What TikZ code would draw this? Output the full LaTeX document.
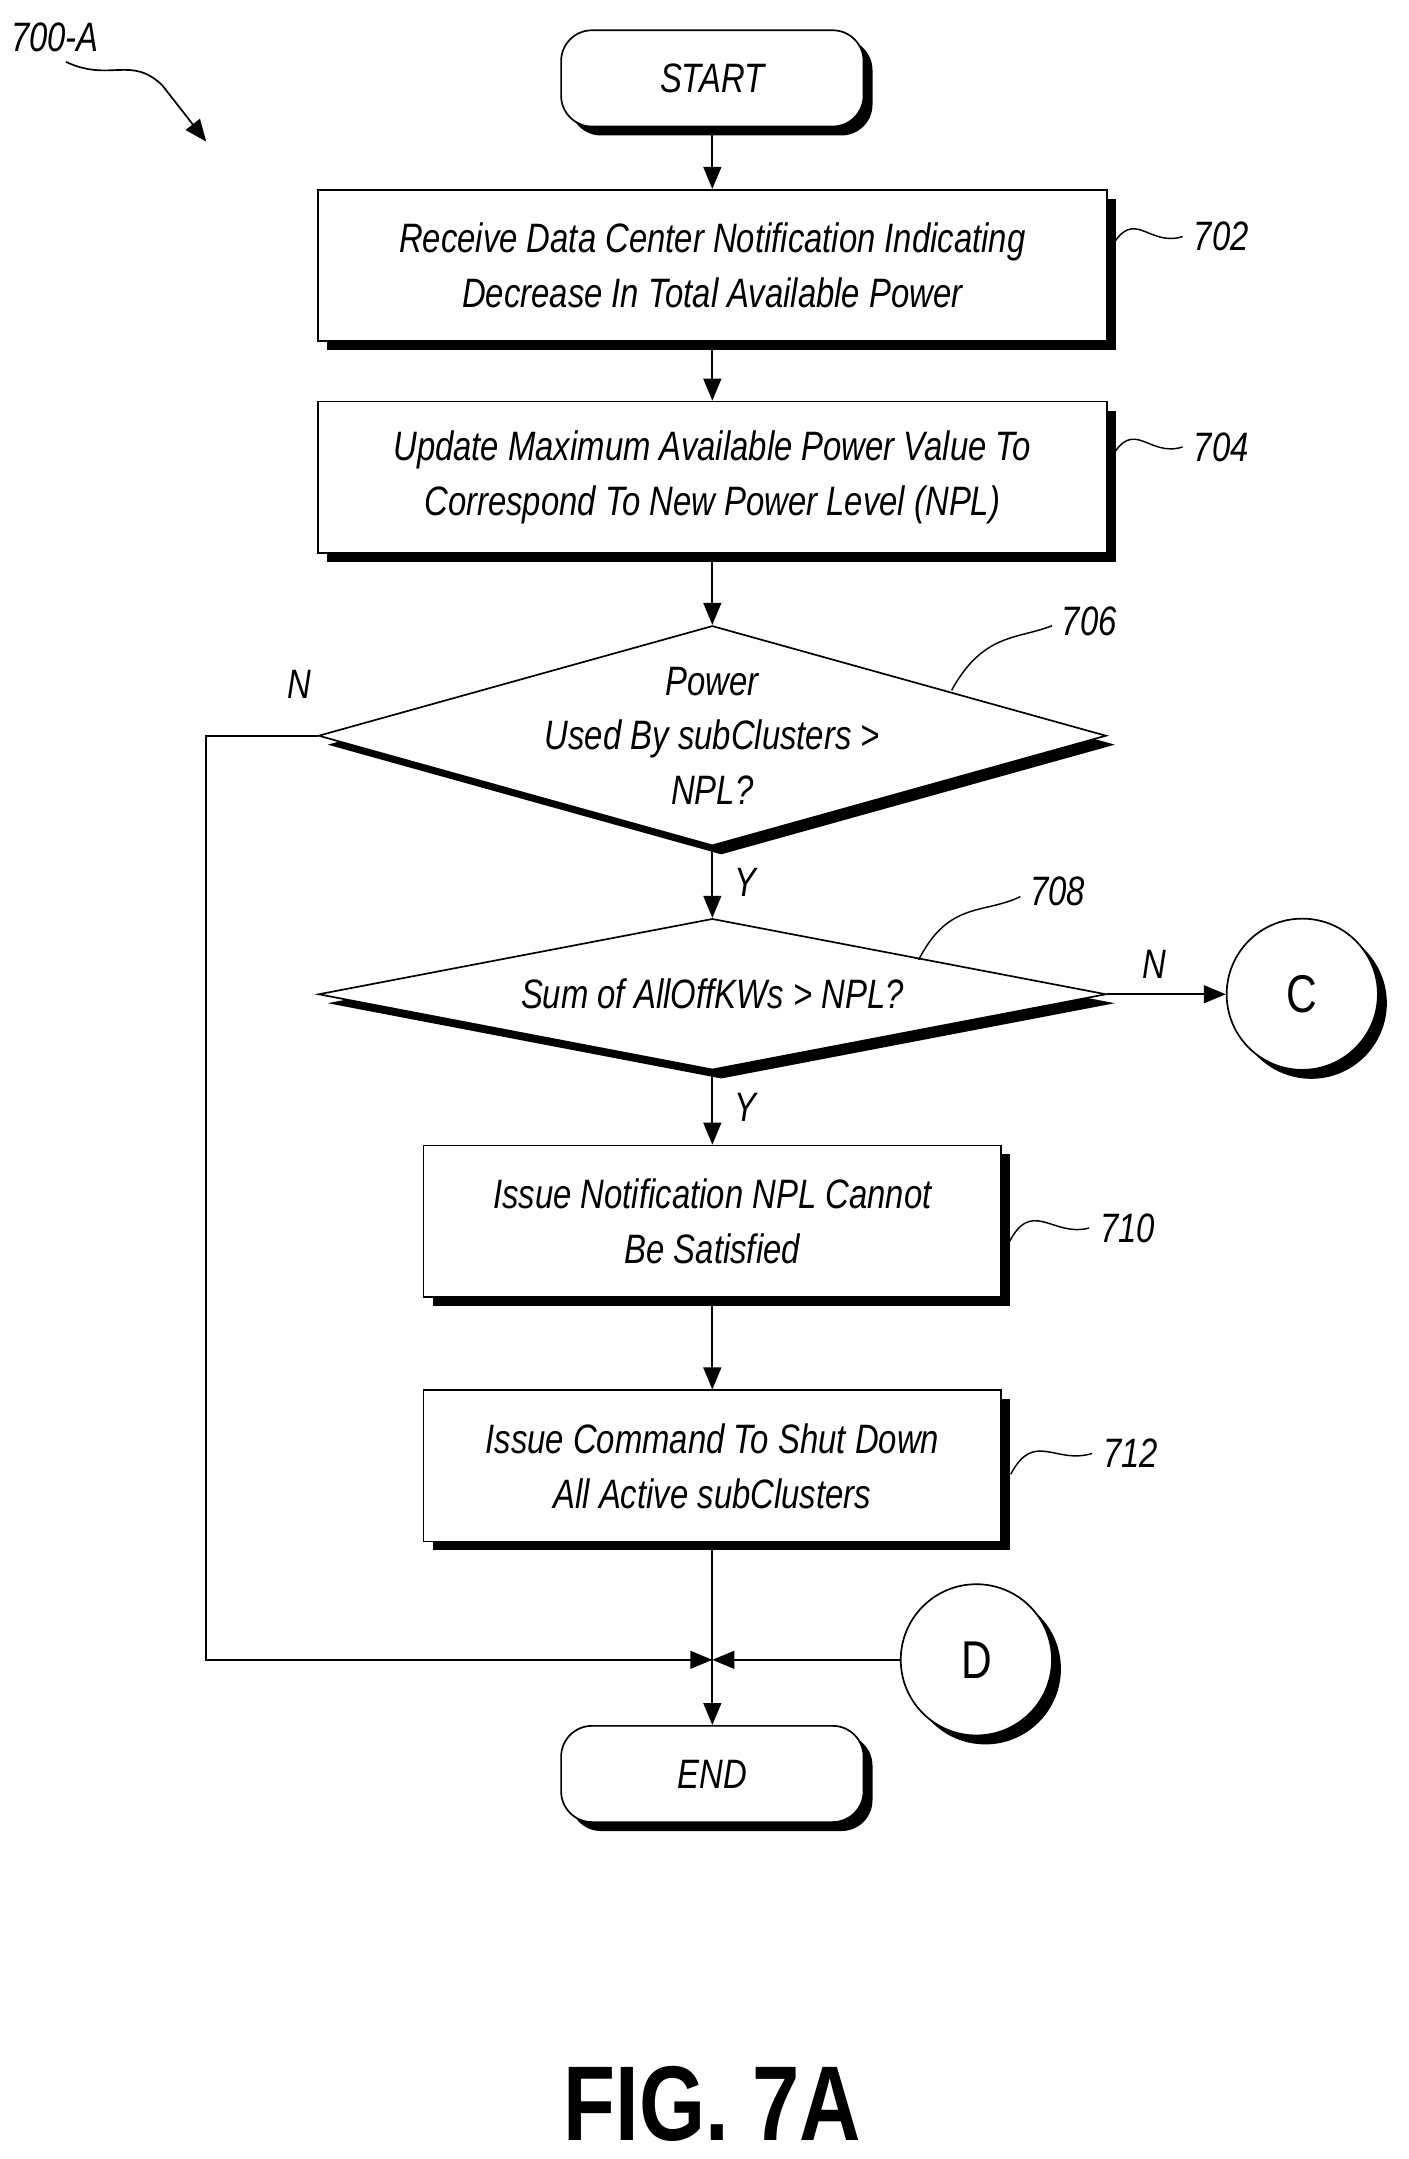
\documentclass[tikz,border=0pt]{standalone}
\usepackage{fontspec}
\setmainfont{Liberation Sans}[FakeStretch=0.8]
\usetikzlibrary{arrows.meta, positioning, shapes, shadows}
\usetikzlibrary{shapes.geometric}

\begin{document}
\begin{tikzpicture}[x=0.02cm, y=-0.02cm, font=\fontsize{17}{22.7}\selectfont\itshape]
    \tikzstyle{shade} = [drop shadow={shadow xshift=1.3mm, shadow yshift=-1.3mm, fill=black, opacity=1}]
    \tikzstyle{block} = [rectangle, draw, fill=white, shade, text centered, minimum height=2.2cm, line width=0.7pt]
    \tikzstyle{term} = [rectangle, draw, fill=white, shade, rounded corners=0.45cm, minimum width=4.4cm, minimum height=1.4cm, line width=0.7pt]
    \tikzstyle{dia} = [diamond, draw, fill=white, shade, minimum width=11.46cm, inner sep=0pt, line width=0.7pt]
    \tikzstyle{conn} = [circle, draw, fill=white, shade, minimum size=2.2cm, font=\fontsize{22}{26}\selectfont, line width=0.7pt]
    \tikzstyle{line} = [draw, line width=0.7pt, -{Triangle[length=3.2mm, width=2.6mm]}]
    \tikzstyle{ref} = [draw, line width=0.6pt]

    \useasboundingbox (0,0) rectangle (1024,1570);

    % nodes
    \node[term] (start) at (518,57) {START};
    \node[block, minimum width=11.48cm, align=center] (n702) at (518,193) {Receive Data Center Notification Indicating\\Decrease In Total Available Power};
    \node[block, minimum width=11.48cm, align=center] (n704) at (518,347) {Update Maximum Available Power Value To\\Correspond To New Power Level (NPL)};
    \node[dia, minimum height=3.2cm] (n706) at (518,535) {};
    \node[align=center] at (n706) {Power\\Used By subClusters >\\NPL?};
    \node[dia, minimum height=2.2cm] (n708) at (518,723) {};
    \node at (n708) {Sum of AllOffKWs > NPL?};
    \node[conn] (c) at (947,723) {C};
    \node[block, minimum width=8.4cm, align=center] (n710) at (518,888) {Issue Notification NPL Cannot\\Be Satisfied};
    \node[block, minimum width=8.4cm, align=center] (n712) at (518,1066) {Issue Command To Shut Down\\All Active subClusters};
    \node[conn] (d) at (710,1207) {D};
    \coordinate (join) at (518,1207);
    \coordinate (left) at (150,535);
    \node[term] (end) at (518,1290) {END};

    % arrows
    \path [line] (start) -- (n702);
    \path [line] (n702) -- (n704);
    \path [line] (n704) -- (n706);
    \path [line] (n706) -- node[right, pos=0.5, xshift=2mm] {Y} (n708);
    \path [line] (n708) -- node[above, pos=0.4, yshift=1mm] {N} (c);
    \path [line] (n708) -- node[right, pos=0.5, xshift=2mm] {Y} (n710);
    \path [line] (n710) -- (n712);
    \draw [line width=0.7pt] (n712) -- (join);
    \path [line] (n706.west) -- (left) |- (join);
    \path [line] (d) -- (join);
    \path [line] (join) -- (end);
    \node at (218,498) {N};

    % reference numerals
    \draw [ref] (808,180) .. controls (825,150) and (835,180) .. (860,172);
    \node[anchor=west] at (862,172) {702};
    \draw [ref] (808,333) .. controls (825,303) and (835,333) .. (860,325);
    \node[anchor=west] at (862,325) {704};
    \draw [ref] (692,502) .. controls (715,460) and (740,465) .. (765,455);
    \node[anchor=west] at (766,452) {706};
    \draw [ref] (668,698) .. controls (690,655) and (715,665) .. (742,652);
    \node[anchor=west] at (743,648) {708};
    \draw [ref] (733,905) .. controls (750,870) and (765,900) .. (792,893);
    \node[anchor=west] at (794,893) {710};
    \draw [ref] (735,1072) .. controls (752,1040) and (767,1065) .. (794,1057);
    \node[anchor=west] at (796,1057) {712};

    \node at (40,27) {700-A};
    \draw [line width=0.7pt, -{Triangle[length=3.2mm, width=2.6mm]}] (48,45) .. controls (80,60) and (95,40) .. (118,62) -- (150,103);

    \node[font=\fontsize{44}{50}\selectfont\bfseries\upshape] at (518,1530) {FIG. 7A};
\end{tikzpicture}
\end{document}
